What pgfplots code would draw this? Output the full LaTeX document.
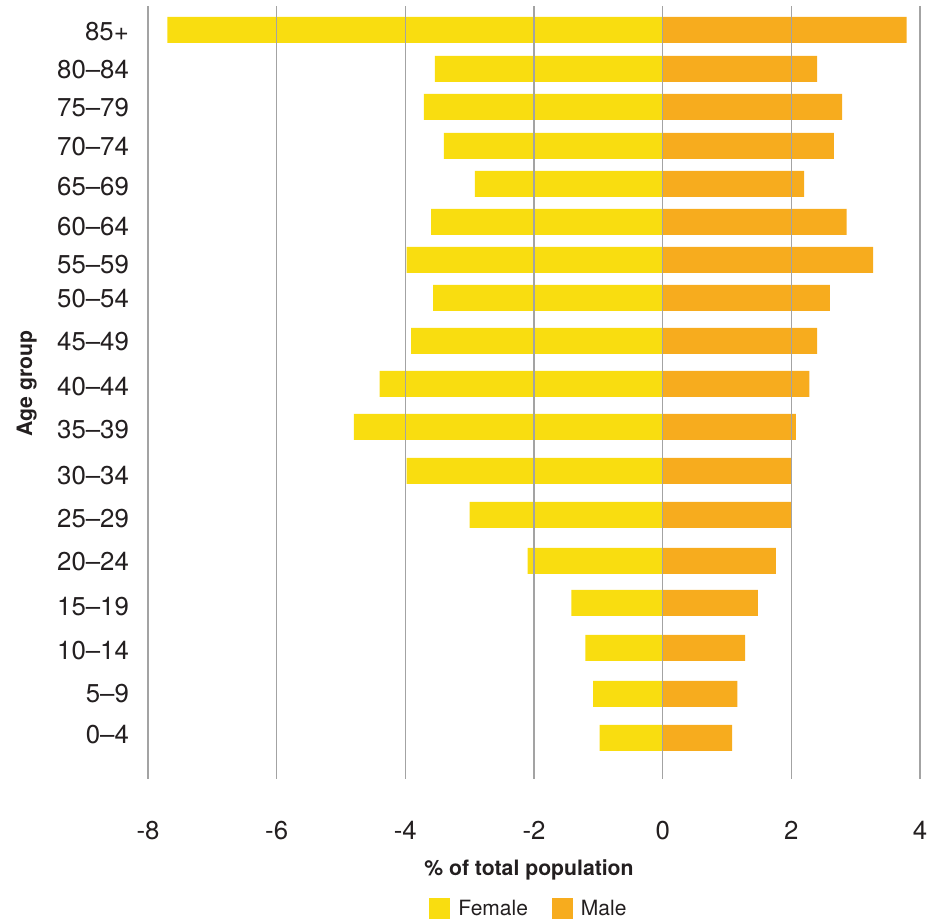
\documentclass[border=0pt]{standalone}
\usepackage{pgfplots}
\pgfplotsset{compat=1.18}
\usepackage{fontspec}
\setmainfont{TeX Gyre Heros}
\definecolor{fem}{HTML}{F9DD10}
\definecolor{mal}{HTML}{F7AC1E}
\definecolor{gridc}{HTML}{A3A3A3}
\definecolor{txt}{HTML}{231F20}
\begin{document}
\begin{tikzpicture}
\useasboundingbox (0,0) rectangle (471pt,460pt);
\begin{axis}[
  at={(74pt,70.5pt)}, anchor=south west,
  scale only axis, width=386pt, height=386.5pt,
  xmin=-8, xmax=4, ymin=-779, ymax=-6,
  xbar, bar width=26, bar shift=0pt,
  axis on top,
  axis line style={draw=none},
  tick style={draw=none},
  xtick={-8,-6,-4,-2,0,2,4},
  xmajorgrids, ymajorgrids=false,
  major grid style={gridc, line width=0.65pt},
  ytick={-32,-70,-108,-147,-187,-227,-265,-299,-342,-387,-430,-476,-519,-562,-607,-651,-694,-735},
  yticklabels={85+,80–84,75–79,70–74,65–69,60–64,55–59,50–54,45–49,40–44,35–39,30–34,25–29,20–24,15–19,10–14,5–9,0–4},
  /pgf/number format/assume math mode=true,
  ticklabel style={font=\fontsize{12.9}{15}\selectfont, text=txt},
  xticklabel style={yshift=-17.5pt},
  yticklabel style={xshift=-1.75pt},
  xlabel={\% of total population},
  ylabel={Age group},
  xlabel style={at={(axis description cs:0.4935,-0.117)}, anchor=center, font=\fontsize{10.6}{12}\selectfont\bfseries, text=txt},
  ylabel style={at={(axis description cs:-0.157,0.512)}, anchor=center, rotate=0, font=\fontsize{10.6}{12}\selectfont\bfseries, text=txt},
  legend columns=2,
  legend style={at={(axis description cs:0.4948,-0.168)}, anchor=center, draw=none, fill=none,
    font=\fontsize{10.5}{12}\selectfont, text=txt,
    /tikz/every even column/.append style={column sep=10pt}},
  legend image code/.code={\fill[#1] (0pt,-5.25pt) rectangle (10.5pt,5.25pt); \path (12.5pt,0pt);},
]
\addplot[fill=fem, draw=none] coordinates {
(-7.70,-30) (-3.54,-69) (-3.71,-107) (-3.40,-146) (-2.92,-184) (-3.60,-222)
(-3.98,-260) (-3.57,-298) (-3.91,-341) (-4.40,-384) (-4.80,-427) (-3.98,-471)
(-3.00,-515) (-2.10,-561) (-1.42,-603) (-1.20,-648) (-1.08,-694) (-0.98,-738)};
\addlegendentry{Female}
\addplot[fill=mal, draw=none] coordinates {
(3.79,-30) (2.40,-69) (2.79,-107) (2.66,-146) (2.20,-184) (2.86,-222)
(3.27,-260) (2.60,-298) (2.40,-341) (2.28,-384) (2.07,-427) (2.00,-471)
(2.00,-515) (1.76,-561) (1.48,-603) (1.28,-648) (1.16,-694) (1.08,-738)};
\addlegendentry{Male}
\end{axis}
\end{tikzpicture}
\end{document}
